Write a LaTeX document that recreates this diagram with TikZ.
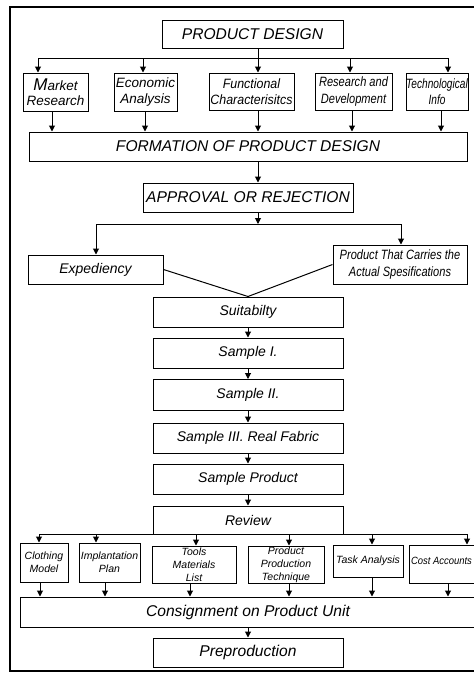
\documentclass[tikz,border=0pt]{standalone}
\usepackage{fontspec}
\setmainfont{Liberation Sans}
\newfontfamily\narrowA[FakeStretch=0.92]{Liberation Sans}
\newfontfamily\narrowB[FakeStretch=0.82]{Liberation Sans}
\newfontfamily\narrowC[FakeStretch=0.75]{Liberation Sans}
\newfontfamily\narrowD[FakeStretch=0.9]{Liberation Sans}
\usetikzlibrary{arrows.meta}

\tikzset{
  box/.style={draw, line width=1pt, inner sep=0pt, align=center},
  ln/.style={line width=1pt},
  arr/.style={line width=1pt, -{Triangle[length=6pt,width=6pt]}},
  big/.style={font=\fontsize{15.6}{18}\selectfont\itshape},
  mid/.style={font=\fontsize{14}{16}\selectfont\itshape},
  topf/.style={font=\fontsize{13.5}{15.5}\selectfont\itshape},
  topA/.style={font=\fontsize{13.5}{15.5}\selectfont\narrowA\itshape},
  topB/.style={font=\fontsize{13.5}{16.5}\selectfont\narrowB\itshape},
  topC/.style={font=\fontsize{13.5}{15.5}\selectfont\narrowC\itshape},
  small/.style={font=\fontsize{10.5}{13}\selectfont\itshape},
  smallD/.style={font=\fontsize{10.5}{13}\selectfont\narrowD\itshape},
}

\begin{document}
\begin{tikzpicture}[x=1pt,y=-1pt]
  \clip (0,0) rectangle (474,673);
  \useasboundingbox (0,0) rectangle (474,673);
  \fill[white] (0,0) rectangle (474,673);

  % outer frame, running past the right edge of the page
  \draw[line width=1.6pt] (490,7) -- (10,7) -- (10,671) -- (490,671);

  % ---- first stage ----
  \node[box, big, minimum width=181pt, minimum height=28pt] (pd) at (252.5,34) {PRODUCT DESIGN};

  \node[box, topf, minimum width=65pt, minimum height=38pt] (mr) at (55.5,92)
    {{\fontsize{17}{17}\selectfont M}arket\\Research};
  \node[box, topf, minimum width=63pt, minimum height=38pt] (ea) at (145.5,92) {Economic\\Analysis};
  \node[box, topA, minimum width=85pt, minimum height=37pt] (fc) at (251.5,91.5) {Functional\\Characterisitcs};
  \node[box, topB, minimum width=77pt, minimum height=37pt] (rd) at (353.5,91.5) {Research and\\Development};
  \node[box, topC, minimum width=62pt, minimum height=37pt] (ti) at (437,91.5) {Technological\\Info};

  \node[box, big, minimum width=438pt, minimum height=29pt] (form) at (248,146.5) {FORMATION OF PRODUCT DESIGN};
  \node[box, big, minimum width=210pt, minimum height=29pt] (appr) at (248,197.5) {APPROVAL OR REJECTION};

  \node[box, mid, minimum width=135pt, minimum height=29pt] (exp) at (95.5,269.5) {Expediency};
  \node[box, topB, minimum width=134pt, minimum height=39pt] (pta) at (400,264.5)
    {Product That Carries the\\Actual Spesifications};

  % ---- sample chain ----
  \node[box, mid, minimum width=190pt, minimum height=30pt] (suit) at (248,312) {Suitabilty};
  \node[box, mid, minimum width=190pt, minimum height=30pt] (s1) at (248,353) {Sample I.};
  \node[box, mid, minimum width=190pt, minimum height=31pt] (s2) at (248,395) {Sample II.};
  \node[box, mid, minimum width=190pt, minimum height=30pt] (s3) at (248,438) {Sample III. Real Fabric};
  \node[box, mid, minimum width=190pt, minimum height=30pt] (sp) at (248,479) {Sample Product};
  \node[box, mid, minimum width=190pt, minimum height=28pt] (rev) at (248,520) {Review};

  % ---- planning documents ----
  \node[box, small, minimum width=48pt, minimum height=39pt] (cm) at (44,562.5) {Clothing\\Model};
  \node[box, small, minimum width=61pt, minimum height=39pt] (ip) at (109.5,562.5) {Implantation\\Plan};
  \node[box, small, minimum width=84pt, minimum height=37pt] (tm) at (194,564.5) {Tools\\Materials\\List};
  \node[box, small, minimum width=76pt, minimum height=37pt] (ppt) at (286,564.5) {Product\\Production\\Technique};
  \node[box, small, minimum width=70pt, minimum height=32pt] (ta) at (368,561) {\raisebox{3pt}{Task Analysis}};
  \node[box, smallD, minimum width=72pt, minimum height=38pt] (ca) at (445,564)
    {\raisebox{6pt}{Cost Accounts\hspace{7pt}}};

  \node[box, big, minimum width=456pt, minimum height=30pt] (cons) at (248,612) {Consignment on Product Unit};
  \node[box, big, minimum width=190pt, minimum height=29pt] (prep) at (248,652.5) {Preproduction};

  % ---- connectors: product design to the five inputs ----
  \coordinate (t1) at (38,58);
  \coordinate (t2) at (143,58);
  \coordinate (t3) at (258,58);
  \coordinate (t4) at (350,58);
  \coordinate (t5) at (448,58);
  \draw[ln] (t1) -- (t5);
  \draw[ln] (t3 |- pd.south) -- (t3);
  \draw[arr] (t1) -- (t1 |- mr.north);
  \draw[arr] (t2) -- (t2 |- ea.north);
  \draw[arr] (t3) -- (t3 |- fc.north);
  \draw[arr] (t4) -- (t4 |- rd.north);
  \draw[arr] (t5) -- (t5 |- ti.north);

  % inputs to formation
  \coordinate (m1) at (52,0);
  \coordinate (m2) at (145,0);
  \coordinate (m3) at (258,0);
  \coordinate (m4) at (352,0);
  \coordinate (m5) at (441,0);
  \draw[arr] (m1 |- mr.south) -- (m1 |- form.north);
  \draw[arr] (m2 |- ea.south) -- (m2 |- form.north);
  \draw[arr] (m3 |- fc.south) -- (m3 |- form.north);
  \draw[arr] (m4 |- rd.south) -- (m4 |- form.north);
  \draw[arr] (m5 |- ti.south) -- (m5 |- form.north);

  % formation to approval, then the split
  \draw[arr] (m3 |- form.south) -- (m3 |- appr.north);
  \coordinate (b0) at (258,224);
  \coordinate (b1) at (96,224);
  \coordinate (b2) at (401,224);
  \draw[arr] (m3 |- appr.south) -- (b0);
  \draw[ln] (b1) -- (b2);
  \draw[arr] (b1) -- (b1 |- exp.north);
  \draw[arr] (b2) -- (b2 |- pta.north);

  % merge into suitability
  \draw[ln] (exp.east) -- (suit.north) -- (pta.west);

  % sample chain
  \draw[arr] (suit.south) -- (s1.north);
  \draw[arr] (s1.south) -- (s2.north);
  \draw[arr] (s2.south) -- (s3.north);
  \draw[arr] (s3.south) -- (sp.north);
  \draw[arr] (sp.south) -- (rev.north);

  % review to the planning documents
  \coordinate (r1) at (39,534);
  \coordinate (r2) at (96,534);
  \coordinate (r3) at (196,534);
  \coordinate (r4) at (289,534);
  \coordinate (r5) at (372,534);
  \coordinate (r6) at (467,534);
  \draw[ln] (r1) -- (r6);
  \draw[arr] (r1) -- (r1 |- cm.north);
  \draw[arr] (r2) -- (r2 |- ip.north);
  \draw[arr] (r3) -- (r3 |- tm.north);
  \draw[arr] (r4) -- (r4 |- ppt.north);
  \draw[arr] (r5) -- (r5 |- ta.north);
  \draw[arr] (r6) -- (r6 |- ca.north);

  % planning documents to consignment
  \coordinate (c1) at (40,0);
  \coordinate (c2) at (105,0);
  \coordinate (c3) at (190,0);
  \coordinate (c4) at (289,0);
  \coordinate (c5) at (372,0);
  \coordinate (c6) at (448,0);
  \draw[arr] (c1 |- cm.south) -- (c1 |- cons.north);
  \draw[arr] (c2 |- ip.south) -- (c2 |- cons.north);
  \draw[arr] (c3 |- tm.south) -- (c3 |- cons.north);
  \draw[arr] (c4 |- ppt.south) -- (c4 |- cons.north);
  \draw[arr] (c5 |- ta.south) -- (c5 |- cons.north);
  \draw[arr] (c6 |- ca.south) -- (c6 |- cons.north);

  \draw[arr] (cons.south) -- (prep.north);
\end{tikzpicture}
\end{document}
